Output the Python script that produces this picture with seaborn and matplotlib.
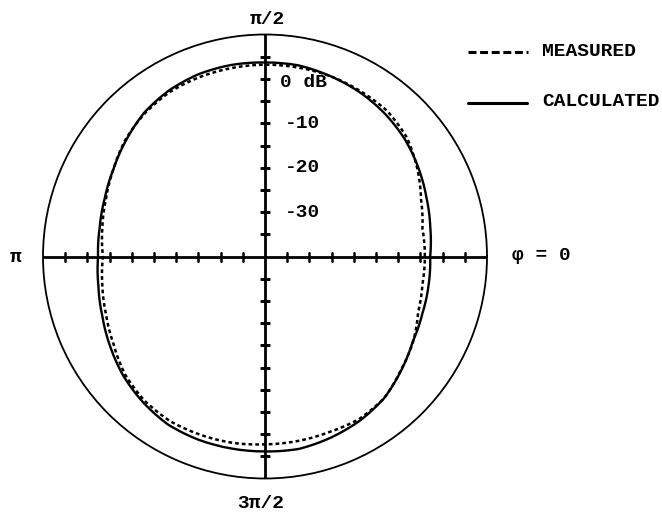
import numpy as np
import pandas as pd
import matplotlib
matplotlib.use("Agg")
import matplotlib.pyplot as plt
import seaborn as sns

# Azimuth angles (degrees) and relative levels (dB)
angles_deg = [0, 10, 20, 30, 40, 50, 60, 70, 80, 90, 100, 110,
              120, 130, 140, 150, 160, 170, 180, 190, 200, 210, 220, 230,
              240, 250, 260, 270, 280, 290, 300, 310, 320, 330, 340, 350]
calculated_db = [-2.8, -2.2, -1.3, -0.1, 1.1, 2.0, 2.7, 3.2, 3.7, 3.7, 3.8, 3.7,
                 3.2, 2.3, 0.8, -0.6, -1.6, -2.2, -2.4, -1.9, -1.0, 0.3, 1.7, 2.8,
                 3.7, 3.9, 3.9, 3.9, 4.0, 3.4, 2.7, 1.7, 0.0, -1.6, -2.3, -2.6]
measured_db = [-4.0, -4.0, -2.6, -0.4, 1.7, 2.8, 3.0, 3.2, 3.2, 3.2, 3.1, 3.0,
               2.8, 2.1, 1.0, -0.6, -1.9, -2.8, -3.5, -2.8, -1.9, -0.6, 1.2, 2.3,
               2.8, 2.7, 2.6, 2.3, 2.2, 2.1, 2.3, 1.7, -0.1, -1.5, -3.3, -4.0]

# Radial scale
r_min, r_max = -40, 10
tick_levels = [-35, -30, -25, -20, -15, -10, -5, 0, 5]
scale_labels = ["0 dB", "-10", "-20", "-30"]
scale_levels = [0, -10, -20, -30]

sns.set_style("white")
plt.rcParams['font.family'] = ['Liberation Mono', 'DejaVu Sans Mono']
plt.rcParams['font.weight'] = 'bold'

W, H = 662, 516
fig = plt.figure(figsize=(W / 100, H / 100), dpi=100)

cx, cy, R = 265, 256.5, 222
ax = fig.add_axes([(cx - R) / W, (H - cy - R) / H, 2 * R / W, 2 * R / H],
                  projection='polar')
ax.set_ylim(r_min, r_max)
ax.set_xticks([])
ax.set_yticks([])
ax.grid(False)
ax.spines['polar'].set_color('black')
ax.spines['polar'].set_linewidth(1.3)


def closed(theta_deg, vals):
    th = np.deg2rad(np.append(theta_deg, theta_deg[0] + 360))
    return pd.DataFrame({"theta": th, "r": np.append(vals, vals[0])})


calc = closed(angles_deg, calculated_db)
meas = closed(angles_deg, measured_db)

sns.lineplot(data=calc, x="theta", y="r", ax=ax, sort=False, estimator=None,
             color="black", linewidth=1.7, zorder=4)
sns.lineplot(data=meas, x="theta", y="r", ax=ax, sort=False, estimator=None,
             color="black", linewidth=1.8, linestyle=(0, (1.5, 1.2)), zorder=4)

# Let the polar transform bend each segment along the azimuth
for line in ax.lines:
    line.get_path()._interpolation_steps = 24
    line.recache_always()

# Cross axes with 5 dB tick marks
for a in [0, 90, 180, 270]:
    th = np.deg2rad(a)
    ax.plot([th, th], [r_min, r_max], color="black", lw=2.0, zorder=3)
    marker = '|' if a in (0, 180) else '_'
    ax.plot([th] * len(tick_levels), tick_levels, linestyle='none',
            marker=marker, markersize=7, markeredgewidth=1.8,
            color="black", zorder=3)


def px(x, y):
    return x / W, 1 - y / H


fs = 14
kw = dict(fontsize=fs, fontweight='bold', color='black')

fig.text(*px(267, 20), "π/2", ha='center', va='center', **kw)
fig.text(*px(261, 503), "3π/2", ha='center', va='center', **kw)
fig.text(*px(16, 257), "π", ha='center', va='center', **kw)
fig.text(*px(512, 256), "φ = 0", ha='left', va='center', **kw)

for lab, lev in zip(scale_labels, scale_levels):
    y = cy - (lev - r_min) * R / (r_max - r_min)
    x0 = 280 if lab == "0 dB" else 285
    fig.text(*px(x0, y + (4 if lab == "0 dB" else 0)), lab,
             ha='left', va='center', **kw)

# Legend drawn as line samples plus labels
fig.add_artist(plt.Line2D([468 / W, 528 / W], [1 - 52 / H, 1 - 52 / H],
                          color='black', lw=2.2, linestyle=(0, (2.6, 1.2))))
fig.text(*px(542, 52), "MEASURED", ha='left', va='center', **kw)
fig.add_artist(plt.Line2D([468 / W, 527 / W], [1 - 103 / H, 1 - 103 / H],
                          color='black', lw=2.2))
fig.text(*px(542, 102), "CALCULATED", ha='left', va='center', **kw)

fig.savefig("out.png", dpi=100, facecolor='white')
